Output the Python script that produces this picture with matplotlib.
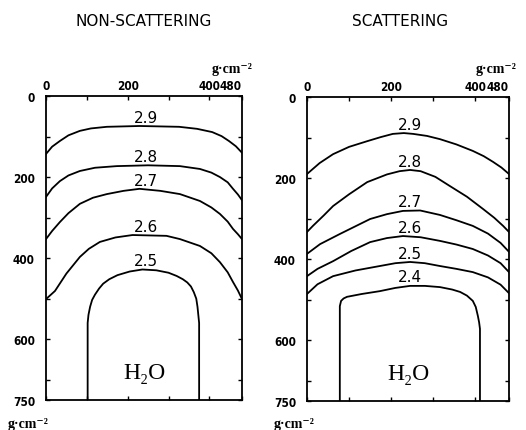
import numpy as np
import matplotlib.pyplot as plt

# depth profiles of constant value, x = horizontal distance, y = depth (g cm^-2)
ns_29_x = [0, 15, 34, 55, 83, 110, 149, 229, 326, 370, 407, 430, 448, 465, 480]
ns_29_y = [143, 125, 111, 97, 86, 80, 76, 74, 76, 81, 89, 99, 111, 124, 140]
ns_28_x = [0, 15, 34, 55, 83, 120, 173, 250, 328, 377, 405, 426, 445, 458, 470, 480]
ns_28_y = [249, 228, 210, 196, 185, 177, 173, 171, 173, 180, 189, 200, 213, 229, 243, 257]
ns_27_x = [0, 15, 34, 55, 83, 115, 149, 190, 229, 280, 328, 377, 405, 426, 445, 458, 470, 480]
ns_27_y = [353, 333, 311, 289, 266, 251, 242, 234, 229, 234, 242, 259, 275, 291, 310, 328, 341, 353]
ns_26_x = [0, 10, 22, 50, 83, 105, 132, 170, 212, 295, 328, 377, 405, 426, 445, 458, 470, 480]
ns_26_y = [501, 492, 481, 438, 397, 377, 360, 349, 343, 345, 353, 370, 388, 410, 435, 459, 480, 501]
ns_25_x = [102, 102, 104, 108, 113, 120, 130, 140, 155, 175, 205, 236, 270, 300, 320,
           335, 346, 355, 362, 368, 371, 373, 375, 375]
ns_25_y = [750, 560, 540, 520, 503, 490, 475, 463, 452, 442, 433, 428, 430, 436, 444,
           452, 460, 470, 484, 500, 520, 540, 560, 750]

sc_29_x = [0, 30, 62, 100, 143, 175, 204, 230, 252, 285, 316, 355, 394, 420, 442, 462, 480]
sc_29_y = [190, 163, 141, 123, 109, 99, 91, 89, 91, 96, 104, 117, 133, 146, 160, 174, 190]
sc_28_x = [0, 14, 40, 62, 100, 143, 190, 220, 245, 270, 305, 340, 380, 418, 445, 466, 480]
sc_28_y = [333, 318, 292, 269, 240, 210, 191, 183, 180, 183, 197, 220, 246, 276, 298, 318, 333]
sc_27_x = [0, 31, 78, 115, 150, 190, 228, 269, 316, 355, 394, 430, 460, 480]
sc_27_y = [387, 363, 338, 319, 301, 289, 281, 280, 291, 304, 318, 337, 360, 382]
sc_26_x = [0, 25, 62, 105, 150, 190, 228, 270, 316, 355, 394, 430, 460, 480]
sc_26_y = [442, 424, 405, 380, 358, 348, 343, 346, 355, 364, 375, 391, 410, 432]
sc_25_x = [0, 25, 62, 115, 173, 210, 245, 280, 316, 355, 394, 430, 460, 480]
sc_25_y = [486, 462, 442, 428, 417, 410, 407, 410, 417, 424, 432, 445, 463, 484]
sc_24_x = [78, 78, 81, 87, 95, 130, 173, 210, 245, 280, 316, 345, 364, 380, 394,
           401, 406, 409, 411, 411]
sc_24_y = [750, 516, 503, 497, 493, 486, 479, 471, 466, 466, 469, 475, 481, 490, 503,
           518, 540, 556, 572, 750]

ns_levels = ["2.9", "2.8", "2.7", "2.6", "2.5"]
ns_lines = [(ns_29_x, ns_29_y), (ns_28_x, ns_28_y), (ns_27_x, ns_27_y),
            (ns_26_x, ns_26_y), (ns_25_x, ns_25_y)]
sc_levels = ["2.9", "2.8", "2.7", "2.6", "2.5", "2.4"]
sc_lines = [(sc_29_x, sc_29_y), (sc_28_x, sc_28_y), (sc_27_x, sc_27_y),
            (sc_26_x, sc_26_y), (sc_25_x, sc_25_y), (sc_24_x, sc_24_y)]

x_ticks = [0, 100, 200, 300, 400, 480]
x_labels = ["0", "", "200", "", "400", "480"]
y_ticks = [0, 100, 200, 300, 400, 500, 600, 700, 750]
y_labels = ["0", "", "200", "", "400", "", "600", "", "750"]
label_x = 245

W, H = 526, 431
fig = plt.figure(figsize=(W / 100, H / 100), dpi=100)
axL = fig.add_axes([46 / W, 1 - 401 / H, 196 / W, 304 / H])
axR = fig.add_axes([307 / W, 1 - 402 / H, 202 / W, 304 / H])

serif = ["Liberation Serif", "DejaVu Serif"]
tick_font = dict(fontsize=8.5, fontweight="bold", fontstretch="condensed")

def draw(ax, levels, lines):
    for lev, (xs, ys) in zip(levels, lines):
        ax.plot(xs, ys, color="black", lw=1.3, solid_joinstyle="round")
        yl = np.interp(label_x, xs, ys)
        ax.annotate(lev, (label_x, yl), xytext=(0, 1), textcoords="offset points",
                    ha="center", va="bottom", fontsize=11, family="DejaVu Sans")
    ax.set_xlim(0, 480)
    ax.set_ylim(750, 0)
    ax.xaxis.tick_top()
    ax.set_xticks(x_ticks)
    ax.set_xticklabels(x_labels, **tick_font)
    ax.set_yticks(y_ticks)
    ax.set_yticklabels(y_labels, **tick_font)
    ax.tick_params(direction="in", length=3, width=1, top=True, bottom=True,
                   left=True, right=True, labeltop=True, labelbottom=False)
    ax.tick_params(axis="y", pad=8)
    ax.tick_params(axis="x", pad=3)
    ax.get_xticklabels()[-1].set_ha("right")
    for s in ax.spines.values():
        s.set_linewidth(1.3)
    ax.text(240, 682, "H₂O", ha="center", va="center", fontsize=17, family=serif)

draw(axL, ns_levels, ns_lines)
draw(axR, sc_levels, sc_lines)

fig.text(144 / W, 1 - 21 / H, "NON-SCATTERING", ha="center", va="center", fontsize=11)
fig.text(400 / W, 1 - 21 / H, "SCATTERING", ha="center", va="center", fontsize=11)

unit = "g·cm⁻²"
fig.text(253 / W, 1 - 76 / H, unit, ha="right", va="bottom", fontsize=10, fontweight="bold", family=serif)
fig.text(516 / W, 1 - 76 / H, unit, ha="right", va="bottom", fontsize=10, fontweight="bold", family=serif)
fig.text(8 / W, 1 - 431 / H, unit, ha="left", va="bottom", fontsize=10, fontweight="bold", family=serif)
fig.text(274 / W, 1 - 431 / H, unit, ha="left", va="bottom", fontsize=10, fontweight="bold", family=serif)

fig.savefig("out.png", dpi=100)
